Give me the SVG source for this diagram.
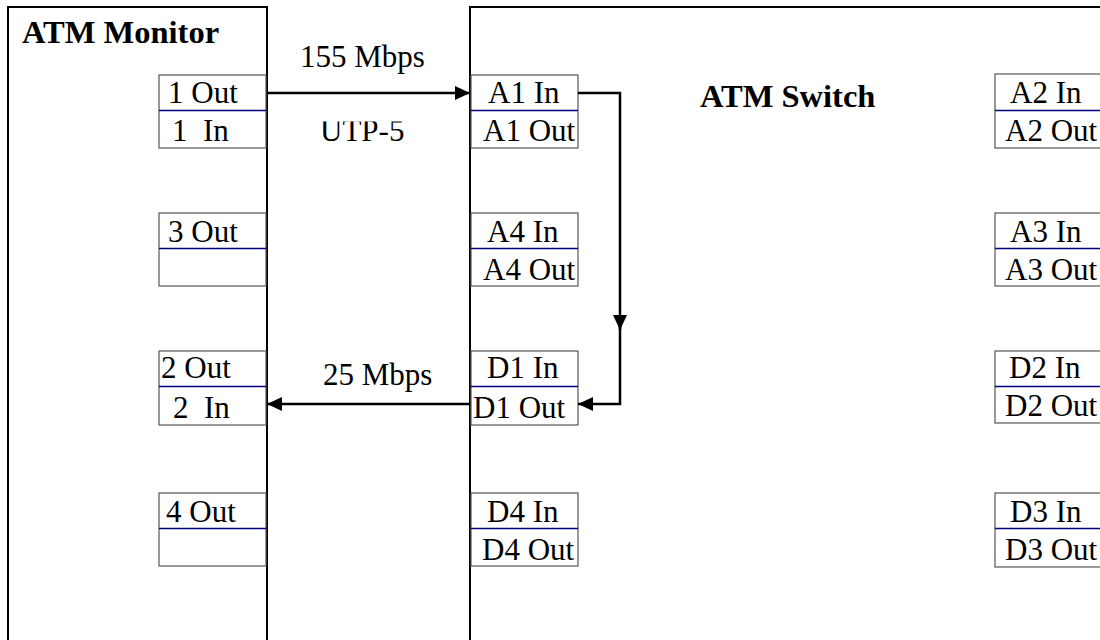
<svg xmlns="http://www.w3.org/2000/svg" width="1100" height="640" viewBox="0 0 1100 640">
<style>
text{font-family:"Liberation Serif","Times New Roman",serif;fill:#000}
.t{font-size:31px}
.title{font-size:32.5px;font-weight:bold}
.port{fill:#fff;stroke:#555;stroke-width:1.2}
.mid{stroke:#000080;stroke-width:1.3}
.frame{fill:none;stroke:#000;stroke-width:2}
.conn{fill:none;stroke:#000;stroke-width:2.5}
</style>
<defs>
<marker id="ah" viewBox="0 0 15 14" refX="15" refY="7" markerWidth="15" markerHeight="14" markerUnits="userSpaceOnUse" orient="auto">
<path d="M0,0 L15,7 L0,14 Z" fill="#000"/>
</marker>
<clipPath id="utpclip"><rect x="290" y="121.5" width="170" height="30"/></clipPath>
</defs>
<rect width="1100" height="640" fill="#fff"/>

<g id="monitor">
<rect class="frame" x="8" y="7" width="259" height="650"/>
<text class="title" x="22" y="43">ATM Monitor</text>
</g>
<g id="switch">
<rect class="frame" x="470" y="7" width="650" height="650"/>
<text class="title" x="700" y="107">ATM Switch</text>
</g>

<g id="port-1">
<rect class="port" x="159" y="75" width="107" height="73"/><line class="mid" x1="159" y1="110.5" x2="266" y2="110.5"/>
<text class="t" x="168" y="103">1 Out</text><text class="t" x="172" y="141" xml:space="preserve">1  In</text>
</g>
<g id="port-3">
<rect class="port" x="159" y="213" width="107" height="73"/><line class="mid" x1="159" y1="248.5" x2="266" y2="248.5"/>
<text class="t" x="168" y="242">3 Out</text>
</g>
<g id="port-2">
<rect class="port" x="159" y="351" width="107" height="74"/><line class="mid" x1="159" y1="386.5" x2="266" y2="386.5"/>
<text class="t" x="161" y="378">2 Out</text><text class="t" x="173" y="418" xml:space="preserve">2  In</text>
</g>
<g id="port-4">
<rect class="port" x="159" y="493" width="107" height="73"/><line class="mid" x1="159" y1="528.5" x2="266" y2="528.5"/>
<text class="t" x="166" y="522">4 Out</text>
</g>

<g id="port-A1">
<rect class="port" x="471" y="75" width="107" height="73"/><line class="mid" x1="471" y1="110.5" x2="578" y2="110.5"/>
<text class="t" x="488" y="103">A1 In</text><text class="t" x="483" y="141">A1 Out</text>
</g>
<g id="port-A4">
<rect class="port" x="471" y="213" width="107" height="73"/><line class="mid" x1="471" y1="248.5" x2="578" y2="248.5"/>
<text class="t" x="487" y="242">A4 In</text><text class="t" x="483" y="280">A4 Out</text>
</g>
<g id="port-D1">
<rect class="port" x="471" y="351" width="107" height="74"/><line class="mid" x1="471" y1="386.5" x2="578" y2="386.5"/>
<text class="t" x="487" y="378">D1 In</text><text class="t" x="473" y="418">D1 Out</text>
</g>
<g id="port-D4">
<rect class="port" x="471" y="493" width="107" height="73"/><line class="mid" x1="471" y1="528.5" x2="578" y2="528.5"/>
<text class="t" x="487" y="522">D4 In</text><text class="t" x="482" y="560">D4 Out</text>
</g>

<g id="port-A2">
<rect class="port" x="995" y="74" width="120" height="74"/><line class="mid" x1="995" y1="110.5" x2="1100" y2="110.5"/>
<text class="t" x="1010" y="103">A2 In</text><text class="t" x="1005" y="141">A2 Out</text>
</g>
<g id="port-A3">
<rect class="port" x="995" y="213" width="120" height="73"/><line class="mid" x1="995" y1="248.5" x2="1100" y2="248.5"/>
<text class="t" x="1010" y="242">A3 In</text><text class="t" x="1005" y="280">A3 Out</text>
</g>
<g id="port-D2">
<rect class="port" x="995" y="351" width="120" height="72"/><line class="mid" x1="995" y1="386.5" x2="1100" y2="386.5"/>
<text class="t" x="1009" y="378">D2 In</text><text class="t" x="1005" y="416">D2 Out</text>
</g>
<g id="port-D3">
<rect class="port" x="995" y="493" width="120" height="74"/><line class="mid" x1="995" y1="528.5" x2="1100" y2="528.5"/>
<text class="t" x="1010" y="522">D3 In</text><text class="t" x="1005" y="560">D3 Out</text>
</g>

<g id="connectors">
<line class="conn" x1="267" y1="93" x2="470" y2="93" marker-end="url(#ah)"/>
<text class="t" x="300" y="67">155 Mbps</text>
<text class="t" x="320" y="141" clip-path="url(#utpclip)">UTP-5</text>
<line class="conn" x1="470" y1="404" x2="267" y2="404" marker-end="url(#ah)"/>
<text class="t" x="323" y="385">25 Mbps</text>
<polyline class="conn" points="578,93 620,93 620,330" marker-end="url(#ah)"/>
<polyline class="conn" points="620,325 620,404 578,404" marker-end="url(#ah)"/>
</g>
</svg>
